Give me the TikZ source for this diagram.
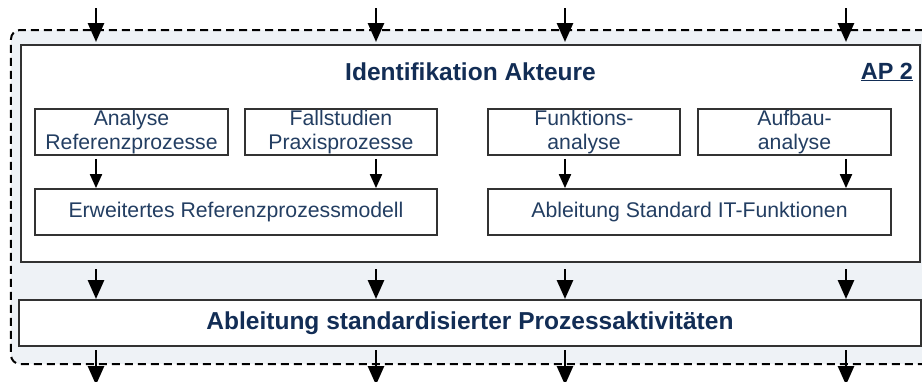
\documentclass[tikz,border=0pt]{standalone}
\usepackage{fontspec}
\setmainfont{Liberation Sans}
\usetikzlibrary{arrows.meta}
\definecolor{navy}{RGB}{18,45,85}
\definecolor{txtblue}{RGB}{35,62,98}
\definecolor{bgfill}{RGB}{238,242,246}
\definecolor{edge}{RGB}{50,50,50}
\tikzset{
  outerbox/.style={draw=black, line width=2bp, dash pattern=on 8bp off 5bp, rounded corners=9bp, fill=bgfill, inner sep=0pt},
  mainbox/.style={draw=edge, line width=2bp, fill=white, inner sep=0pt},
  subbox/.style={draw=edge, line width=1.8bp, fill=white, inner sep=0pt, align=center, text=txtblue, font=\fontsize{21.3}{24}\selectfont},
  bigtitle/.style={text=navy, font=\fontsize{24.6}{28}\selectfont\bfseries, inner sep=0pt},
  bigarrow/.style={line width=2.8bp, -{Triangle[width=16bp,length=19bp]}},
  smallarrow/.style={line width=2bp, -{Triangle[width=12bp,length=14bp]}}
}
\begin{document}
\begin{tikzpicture}[x=1bp,y=-1bp]
\useasboundingbox (0,0) rectangle (922,381);
% outer dashed container
\node[outerbox, minimum width=934bp, minimum height=334bp] (outer) at (478,197) {};
% inner box
\node[mainbox, minimum width=899bp, minimum height=217bp] (akteure) at (470.5,153.5) {};
\node[bigtitle] (title) at (470.5,72) {Identifikation Akteure};
\node[bigtitle, font=\fontsize{23.5}{27}\selectfont\bfseries] (ap) at (887,72) {\underline{AP 2}};
% sub boxes
\node[subbox, minimum width=193bp, minimum height=46bp] (a1) at (131.5,132) {Analyse\\Referenzprozesse};
\node[subbox, minimum width=192bp, minimum height=46bp] (a2) at (341,132) {Fallstudien\\Praxisprozesse};
\node[subbox, minimum width=192bp, minimum height=46bp] (a3) at (584,132) {Funktions-\\analyse};
\node[subbox, minimum width=193bp, minimum height=46bp] (a4) at (794.5,132) {Aufbau-\\analyse};
\node[subbox, minimum width=402bp, minimum height=46bp] (b1) at (236,212) {Erweitertes Referenzprozessmodell};
\node[subbox, minimum width=403bp, minimum height=46bp] (b2) at (689.5,212) {Ableitung Standard IT-Funktionen};
% bottom box
\node[mainbox, minimum width=902bp, minimum height=46bp] (abl) at (470,323) {};
\node[bigtitle] (abltext) at (470,323) {Ableitung standardisierter Prozessaktivitäten};
% column coordinates
\coordinate (c1) at (96,0);
\coordinate (c2) at (376,0);
\coordinate (c3) at (565,0);
\coordinate (c4) at (846,0);
\coordinate (top) at (0,8);
\coordinate (bot) at (0,385);
% arrows
\foreach \c in {c1,c2,c3,c4}{
  \draw[bigarrow] (top -| \c) -- ([yshift=2bp]akteure.north -| \c);
  \draw[bigarrow, shorten <=6bp] (akteure.south -| \c) -- (abl.north -| \c);
  \draw[bigarrow, shorten <=3bp] (abl.south -| \c) -- (bot -| \c);
}
\draw[smallarrow, shorten <=3bp] (a1.south -| c1) -- (b1.north -| c1);
\draw[smallarrow, shorten <=3bp] (a2.south -| c2) -- (b1.north -| c2);
\draw[smallarrow, shorten <=3bp] (a3.south -| c3) -- (b2.north -| c3);
\draw[smallarrow, shorten <=3bp] (a4.south -| c4) -- (b2.north -| c4);
\end{tikzpicture}
\end{document}
